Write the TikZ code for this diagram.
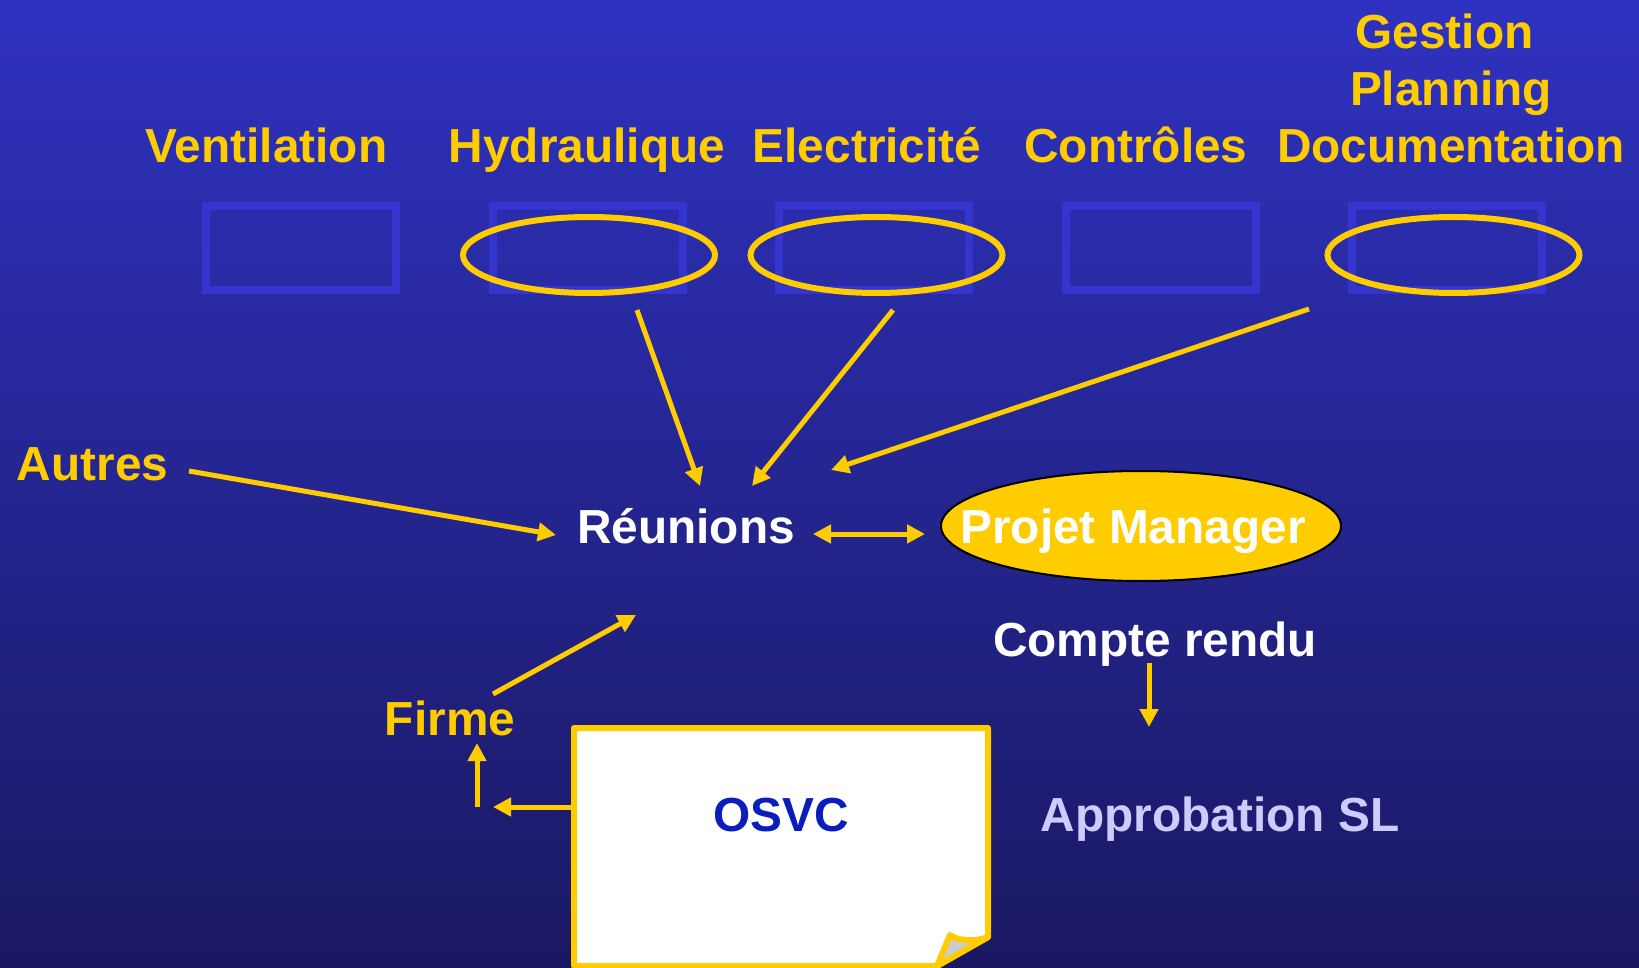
\documentclass[tikz,border=0pt]{standalone}
\usepackage{fontspec}
\setmainfont{Liberation Sans}
\usetikzlibrary{shapes.geometric,arrows.meta}
\definecolor{bgtop}{RGB}{47,50,192}
\definecolor{bgbot}{RGB}{26,24,98}
\definecolor{gold}{RGB}{255,204,0}
\definecolor{faint}{RGB}{52,52,206}
\definecolor{osvcblue}{RGB}{10,30,190}
\definecolor{lav}{RGB}{204,204,255}
\definecolor{flapgrey}{RGB}{204,204,204}
\begin{document}
\begin{tikzpicture}[x=0.5pt,y=-0.5pt,
  lbl/.style={font=\fontsize{23.9}{28.5}\selectfont\bfseries, inner sep=0pt, anchor=base},
  ylbl/.style={lbl,text=gold},
  wlbl/.style={lbl,text=white},
  slot/.style={draw=faint,line width=4pt,minimum width=95pt,minimum height=42pt,inner sep=0pt},
  ring/.style={draw=gold,ellipse,line width=3pt,minimum width=126pt,minimum height=38pt,inner sep=0pt},
  arr/.style={gold,line width=2.5pt,-{Triangle[length=9pt,width=9pt]}},
  darr/.style={gold,line width=2.5pt,{Triangle[length=9pt,width=9pt]}-{Triangle[length=9pt,width=9pt]}},
]
\useasboundingbox (0,0) rectangle (1639,968);
\shade[top color=bgtop, bottom color=bgbot] (0,0) rectangle (1639,968);

% faint slots
\node[slot] (s1) at (301,248) {};
\node[slot] (s2) at (587.5,248) {};
\node[slot] (s3) at (874,248) {};
\node[slot] (s4) at (1160.5,248) {};
\node[slot] (s5) at (1447,248) {};

% yellow rings
\node[ring] (hyd) at (589,255) {};
\node[ring] (ele) at (876.5,255) {};
\node[ring] (doc) at (1453.5,255) {};

% titles
\node[ylbl] (tVent) at (266.5,163) {Ventilation};
\node[ylbl] (tHyd) at (587,163) {Hydraulique};
\node[ylbl] (tEle) at (867,163) {Electricité};
\node[ylbl] (tCon) at (1136,163) {Contrôles};
\node[ylbl,anchor=south,align=center] (tDoc) at (1451,163) {Gestion\hspace*{6.5pt}\\Planning\\Documentation};

% middle
\node[ylbl] (autres) at (92.5,480) {Autres};
\node[wlbl] (reu) at (686,543) {Réunions};
\node[ellipse,fill=gold,draw=black,line width=1pt,minimum width=200pt,minimum height=55pt,inner sep=0pt] (pm) at (1141,526) {};
\node[wlbl] (pmtext) at (1133,543) {Projet Manager};
\node[wlbl] (cr) at (1155,656) {Compte rendu};
\node[lbl,text=lav] (appro) at (1220,831) {Approbation SL};
\node[ylbl] (firme) at (450,735) {Firme};

% OSVC page
\draw[gold,line width=3pt,fill=white,line join=round] (574,728) -- (988,728) -- (988,937) -- (937,966) -- (574,966) -- cycle;
\draw[gold,line width=3pt,fill=flapgrey,line join=round] (988,937) .. controls (975,942) and (958,941) .. (950,935) -- (937,966) -- cycle;
\node[lbl,text=osvcblue] (osvc) at (781,831) {OSVC};

% connector end points
\coordinate (aA) at (189,471);   \coordinate (aB) at (556,535);
\coordinate (hA) at (637,310);   \coordinate (hB) at (700,486);
\coordinate (eA) at (893,310);   \coordinate (eB) at (752,486);
\coordinate (dA) at (1309,309);  \coordinate (dB) at (831,470);
\coordinate (rA) at (813,534);   \coordinate (rB) at (925,534);
\coordinate (cA) at (1149,663);  \coordinate (cB) at (1149,727);
\coordinate (fA) at (493,694);   \coordinate (fB) at (636,615);
\coordinate (oA) at (572,807);   \coordinate (oB) at (493,807);
\coordinate (uA) at (477,807);   \coordinate (uB) at (477,743);

\draw[arr] (aA) -- (aB);
\draw[arr] (hA) -- (hB);
\draw[arr] (eA) -- (eB);
\draw[arr] (dA) -- (dB);
\draw[darr] (rA) -- (rB);
\draw[arr] (cA) -- (cB);
\draw[arr] (fA) -- (fB);
\draw[arr] (oA) -- (oB);
\draw[arr] (uA) -- (uB);
\end{tikzpicture}
\end{document}
